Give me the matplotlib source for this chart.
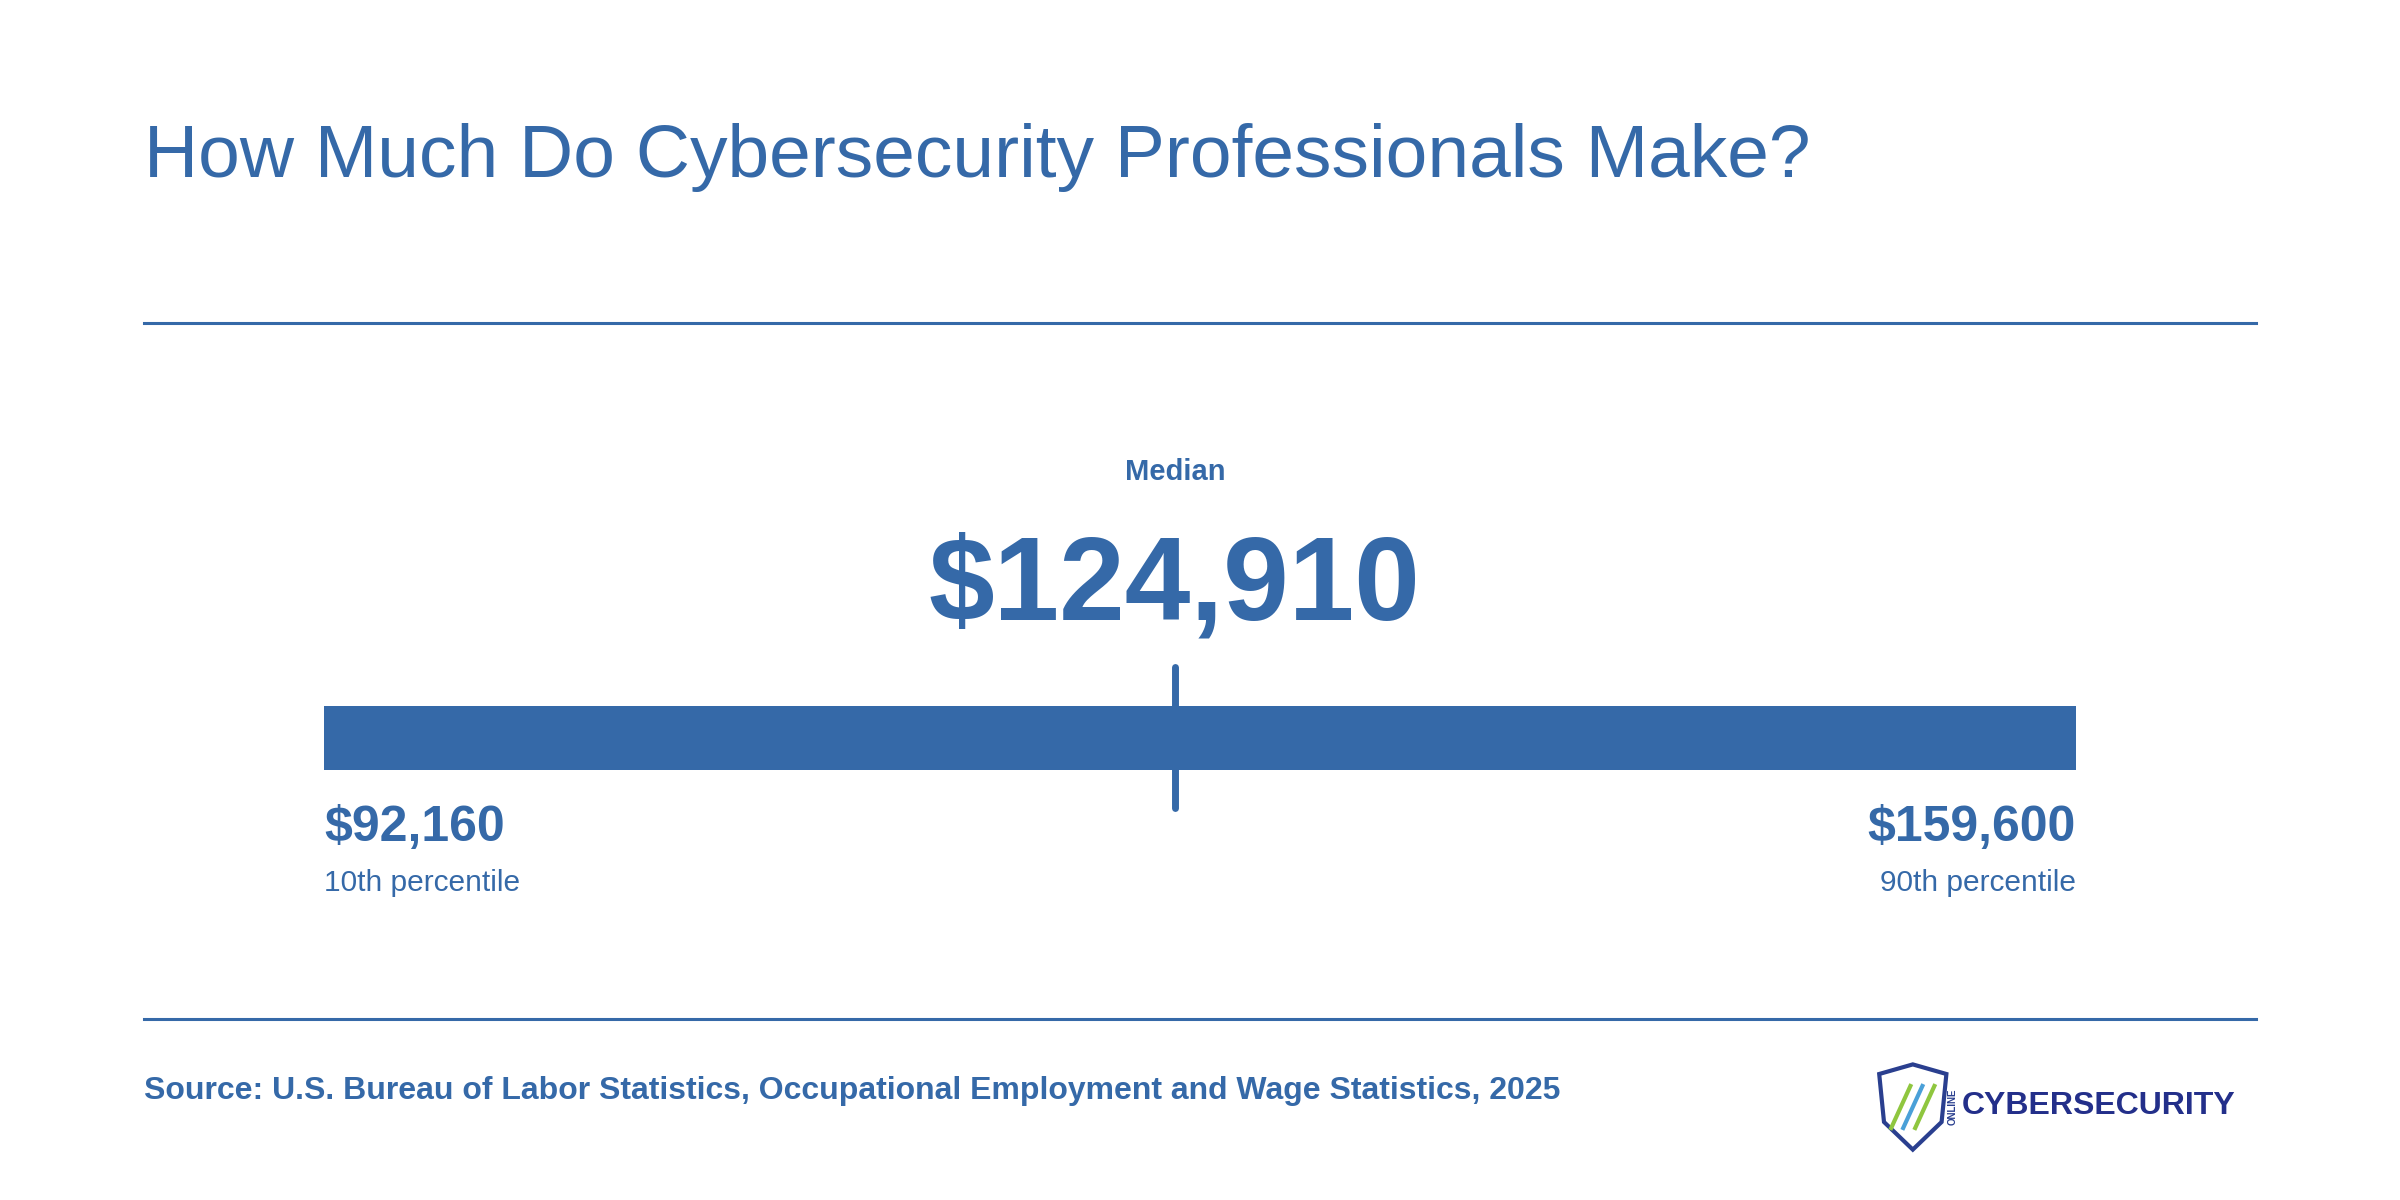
import matplotlib
matplotlib.use("Agg")
import matplotlib.pyplot as plt
from matplotlib.patches import Polygon

title = "How Much Do Cybersecurity Professionals Make?"
p10_value = 92160
median_value = 124910
p90_value = 159600
p10_label = "10th percentile"
p90_label = "90th percentile"
median_label = "Median"
source = "Source: U.S. Bureau of Labor Statistics, Occupational Employment and Wage Statistics, 2025"

C = "#3569a8"
plt.rcParams['font.family'] = ['Liberation Sans', 'DejaVu Sans']
fig = plt.figure(figsize=(24, 12), dpi=100)
fig.patch.set_facecolor("white")

fig.text(0.06, 0.869, title, color=C, fontsize=54, va="center", ha="left")
fig.add_artist(plt.Line2D([0.06, 0.94], [0.731, 0.731], color=C, lw=2.2))
fig.add_artist(plt.Line2D([0.06, 0.94], [0.151, 0.151], color=C, lw=2.2))

ax = fig.add_axes([0.135, 0.3, 0.73, 0.2])
ax.set_xlim(p10_value, p90_value)
ax.set_ylim(0, 1)
ax.axis("off")
ax.barh(0.425, p90_value - p10_value, left=p10_value, height=0.27, color=C)
ax.plot([median_value, median_value], [0.135, 0.72], color=C, lw=5, solid_capstyle="round")

xm = 0.135 + 0.73 * (median_value - p10_value) / (p90_value - p10_value)
fig.text(xm, 0.607, median_label, color=C, fontsize=21, fontweight="bold", ha="center", va="center")
fig.text(xm, 0.509, f"${median_value:,}", color=C, fontsize=85, fontweight="bold", ha="center", va="center")
fig.text(0.135, 0.31, f"${p10_value:,}", color=C, fontsize=36, fontweight="bold", ha="left", va="center")
fig.text(0.135, 0.264, p10_label, color=C, fontsize=21.5, ha="left", va="center")
fig.text(0.865, 0.31, f"${p90_value:,}", color=C, fontsize=36, fontweight="bold", ha="right", va="center")
fig.text(0.865, 0.264, p90_label, color=C, fontsize=21.5, ha="right", va="center")

fig.text(0.06, 0.091, source, color=C, fontsize=23, fontweight="bold", ha="left", va="center")

shield = Polygon([[0.783, 0.105], [0.797, 0.113], [0.811, 0.105], [0.809, 0.065],
                  [0.797, 0.042], [0.785, 0.065]], closed=True, fill=False,
                 edgecolor="#2a3f8f", lw=3, transform=fig.transFigure)
fig.add_artist(shield)
for dx, col in [(0.0, "#8fc63f"), (0.005, "#4aa0d8"), (0.010, "#8fc63f")]:
    fig.add_artist(plt.Line2D([0.788 + dx, 0.796 + dx], [0.06, 0.095], color=col, lw=3,
                              transform=fig.transFigure))
fig.text(0.8135, 0.078, "ONLINE", color="#2a3f8f", fontsize=7, fontweight="bold",
         rotation=90, ha="center", va="center")
fig.text(0.8175, 0.078, "CYBERSECURITY", color="#232f8a", fontsize=23, fontweight="bold",
         ha="left", va="center")

fig.savefig("out.png", dpi=100, facecolor="white")
